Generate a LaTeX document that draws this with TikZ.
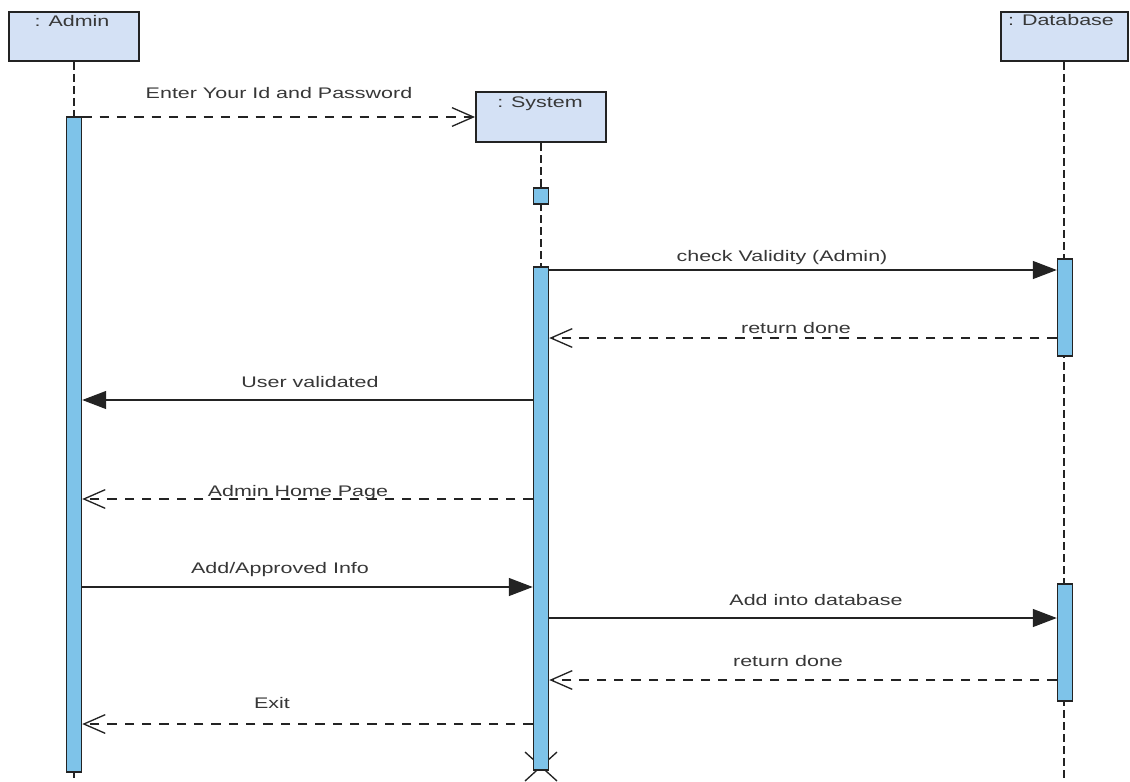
\documentclass[tikz,border=0pt]{standalone}
\usepackage{fontspec}
\newfontfamily\umlfont{Liberation Sans}[FakeStretch=1.4]
\usetikzlibrary{arrows.meta}
\definecolor{objfill}{RGB}{212,225,245}
\definecolor{actfill}{RGB}{126,195,233}
\definecolor{umlline}{RGB}{35,35,35}
\definecolor{umltext}{RGB}{55,55,55}
\tikzset{
  objbox/.style={draw=umlline, line width=1.5pt, fill=objfill, inner sep=0pt},
  actbar/.style={draw=umlline, line width=1.1pt, fill=actfill, inner sep=0pt, minimum width=11.25pt},
  lifeline/.style={draw=umlline, line width=1.1pt, dash pattern=on 6pt off 3pt},
  syncmsg/.style={draw=umlline, line width=1pt, -{Triangle[length=18pt,width=13.5pt]}},
  retmsg/.style={draw=umlline, line width=1pt, dash pattern=on 7pt off 6pt, -{Straight Barb[length=16pt,width=14pt]}},
  msgtxt/.style={text=umltext, inner sep=0.75pt, font=\umlfont\fontsize{11.5}{13}\selectfont},
}

\begin{document}
\begin{tikzpicture}[x=0.75pt,y=0.75pt,yscale=-1,xscale=1]
        \useasboundingbox [fill=white] (0,0) rectangle (1130,781);
        \coordinate (bot) at (0,781);
        \coordinate (m1) at (0,117);
        \coordinate (m2) at (0,270);
        \coordinate (m3) at (0,338);
        \coordinate (m4) at (0,400);
        \coordinate (m5) at (0,499);
        \coordinate (m6) at (0,587);
        \coordinate (m7) at (0,618);
        \coordinate (m8) at (0,680);
        \coordinate (m9) at (0,724);
        \coordinate (xend) at (541,766);

        \node [objbox, minimum width=97.5pt, minimum height=36.75pt] (admin) at (74,36.5) {};
        \node [objbox, minimum width=97.5pt, minimum height=37.5pt] (system) at (541,117) {};
        \node [objbox, minimum width=95.25pt, minimum height=36.75pt] (database) at (1064,36.5) {};

        \draw [lifeline] (admin.south) -- (admin.south |- bot);
        \draw [lifeline] (database.south) -- (database.south |- bot);
        \draw [lifeline] (system.south) -- (541,765);
        \draw [umlline, line width=1pt] (xend) ++(-16,-14) -- ++(32,29);
        \draw [umlline, line width=1pt] (xend) ++(16,-14) -- ++(-32,29);

        \node [actbar, minimum height=491.25pt] (actA) at (74,444.5) {};
        \node [actbar, minimum height=12pt] (actS0) at (541,196) {};
        \node [actbar, minimum height=377.25pt] (actS) at (541,518.5) {};
        \node [actbar, minimum height=72.75pt] (actD1) at (1065,307.5) {};
        \node [actbar, minimum height=87.75pt] (actD2) at (1065,642.5) {};

        \draw [retmsg] (actA.east |- m1) -- (system.west);
        \draw [syncmsg] (actS.east |- m2) -- (actD1.west |- m2);
        \draw [retmsg] (actD1.west |- m3) -- (actS.east |- m3);
        \draw [syncmsg] (actS.west |- m4) -- (actA.east |- m4);
        \draw [retmsg] (actS.west |- m5) -- (actA.east |- m5);
        \draw [syncmsg] (actA.east |- m6) -- (actS.west |- m6);
        \draw [syncmsg] (actS.east |- m7) -- (actD2.west |- m7);
        \draw [retmsg] (actD2.west |- m8) -- (actS.east |- m8);
        \draw [retmsg] (actS.west |- m9) -- (actA.east |- m9);

        \draw (72,27) node [msgtxt, anchor=base] (admintxt) {: Admin};
        \draw (540,108) node [msgtxt, anchor=base] (systemtxt) {: System};
        \draw (1061,26) node [msgtxt, anchor=base] (databasetxt) {: Database};
        \draw (279,99) node [msgtxt, anchor=base] (t1) {Enter Your Id and Password};
        \draw (782,261) node [msgtxt, anchor=base] (t2) {check Validity (Admin)};
        \draw (796,333) node [msgtxt, anchor=base] (t3) {return done};
        \draw (310,387) node [msgtxt, anchor=base] (t4) {User validated};
        \draw (298,496) node [msgtxt, anchor=base] (t5) {Admin Home Page};
        \draw (280,573) node [msgtxt, anchor=base] (t6) {Add/Approved Info};
        \draw (816,605) node [msgtxt, anchor=base] (t7) {Add into database};
        \draw (788,666) node [msgtxt, anchor=base] (t8) {return done};
        \draw (272,708) node [msgtxt, anchor=base] (t9) {Exit};
\end{tikzpicture}
\end{document}
